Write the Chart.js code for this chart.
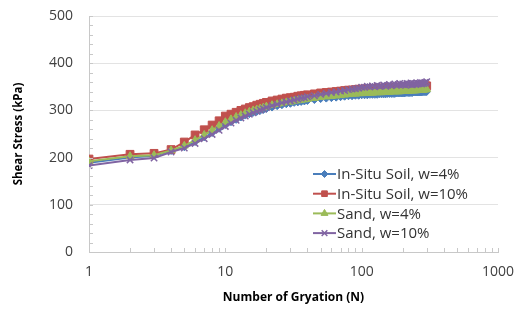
<!DOCTYPE html>
<html>
<head>
<meta charset="utf-8">
<script src="https://cdn.jsdelivr.net/npm/chart.js@4"></script>
<style>
  html, body { margin: 0; padding: 0; background: #fff; }
  #wrap { width: 524px; height: 309px; }
</style>
</head>
<body>
<div id="wrap"><canvas id="chart"></canvas></div>
<script>
// number of gyrations
const gyrations = [1, 2, 3, 4, 5, 6, 7, 8, 9, 10, 11, 12, 13, 14, 15, 16, 17, 18, 19, 20,
    22, 24, 26, 28, 30, 32, 34, 36, 38, 40,
    45, 50, 55, 60, 65, 70, 75, 80, 85, 90, 95, 100,
    105, 110, 115, 120, 125, 130, 135, 140, 145, 150, 155, 160, 165, 170, 175, 180, 185, 190, 195, 200,
    205, 210, 215, 220, 225, 230, 235, 240, 245, 250, 255, 260, 265, 270, 275, 280, 285, 290, 295, 300]

const insitu4 = [189, 200, 204, 214, 222, 233, 243, 252, 261, 269, 275, 280, 285, 289, 292, 295, 297, 299, 301, 303,
    306, 309, 311, 313, 314, 316, 317, 318, 319, 320,
    322, 324, 325, 326, 327, 328, 329, 330, 330, 331, 331, 332,
    332, 332, 333, 333, 333, 333, 334, 334, 334, 334, 335, 335, 335, 335, 335, 336, 336, 336, 336, 336,
    336, 337, 337, 337, 337, 337, 337, 338, 338, 338, 338, 338, 338, 338, 338, 339, 339, 339, 339, 339]

const insitu10 = [197, 207, 209, 217, 233, 248, 259, 269, 278, 288, 292, 296, 300, 303, 306, 308, 311, 313, 315, 317,
    320, 322, 324, 326, 327, 328, 330, 331, 332, 333,
    335, 337, 338, 339, 340, 341, 342, 343, 343, 344, 345, 345,
    345, 346, 346, 346, 346, 347, 347, 347, 347, 348, 348, 348, 348, 348, 349, 349, 349, 349, 349, 349,
    349, 350, 350, 350, 350, 350, 350, 350, 350, 351, 351, 351, 351, 351, 351, 351, 352, 352, 352, 352]

const sand4 = [192, 203, 205, 215, 225, 237, 248, 258, 267, 275, 281, 286, 290, 294, 297, 300, 302, 304, 306, 308,
    311, 313, 315, 317, 318, 320, 321, 322, 323, 324,
    326, 328, 329, 330, 331, 332, 333, 334, 335, 335, 336, 336,
    337, 337, 337, 337, 338, 338, 338, 338, 339, 339, 339, 339, 340, 340, 340, 340, 340, 340, 341, 341,
    341, 341, 341, 341, 342, 342, 342, 342, 342, 342, 343, 343, 343, 343, 343, 343, 344, 344, 344, 345]

const sand10 = [183, 195, 199, 212, 220, 230, 240, 249, 258, 266, 273, 279, 284, 288, 292, 295, 298, 301, 303, 306,
    310, 313, 316, 318, 320, 322, 324, 326, 327, 329,
    331, 334, 336, 338, 339, 341, 342, 344, 345, 346, 347, 349,
    349, 351, 350, 352, 350, 353, 351, 352, 354, 351, 353, 355, 352, 354, 356, 353, 355, 357, 354, 356,
    355, 353, 357, 355, 356, 358, 354, 357, 356, 355, 358, 356, 357, 359, 356, 358, 357, 359, 358, 361]

const seriesNames = ['In-Situ Soil, w=4%', 'In-Situ Soil, w=10%', 'Sand, w=4%', 'Sand, w=10%']
const yTicks = [0, 100, 200, 300, 400, 500]
const xTicks = [1, 10, 100, 1000]

const toPoints = (vals) => gyrations.map((n, i) => ({ x: n, y: vals[i] }))

const makeSet = (label, vals, color, style, radius, order) => ({
    label: label,
    data: toPoints(vals),
    borderColor: color,
    backgroundColor: color,
    borderWidth: 2,
    pointStyle: style,
    pointRadius: radius,
    pointBorderWidth: style === 'crossRot' ? 1.5 : 1,
    pointHoverRadius: radius,
    order: order
})

// minor tick marks drawn inside the plot, like the spreadsheet chart
const minorTicks = {
    id: 'minorTicks',
    afterDraw(chart) {
        const ctx = chart.ctx
        const { left, bottom } = chart.chartArea
        const x = chart.scales.x
        const y = chart.scales.y
        ctx.save()
        ctx.strokeStyle = '#c8c8c8'
        ctx.lineWidth = 1
        ctx.beginPath()
        for (let v = 0; v <= 500; v += 20) {
            const py = Math.round(y.getPixelForValue(v)) + 0.5
            ctx.moveTo(left, py)
            ctx.lineTo(left + 4, py)
        }
        for (let d = 1; d < 1000; d *= 10) {
            for (let k = 1; k <= 10; k++) {
                const px = Math.round(x.getPixelForValue(d * k)) + 0.5
                ctx.moveTo(px, bottom)
                ctx.lineTo(px, bottom - 4)
            }
        }
        ctx.stroke()
        ctx.restore()
    }
}

// legend inside the plot area with line + marker samples
const insideLegend = {
    id: 'insideLegend',
    afterDraw(chart) {
        const ctx = chart.ctx
        const { left, top } = chart.chartArea
        const sets = chart.data.datasets
        ctx.save()
        ctx.font = '15px "Open Sans", sans-serif'
        ctx.textBaseline = 'middle'
        seriesNames.forEach((name, i) => {
            const ds = sets[i]
            const y0 = top + 158 + i * 19.7
            const x0 = left + 224
            ctx.strokeStyle = ds.borderColor
            ctx.lineWidth = 2
            ctx.beginPath()
            ctx.moveTo(x0, y0)
            ctx.lineTo(x0 + 23, y0)
            ctx.stroke()
            ctx.fillStyle = ds.backgroundColor
            ctx.lineWidth = ds.pointBorderWidth
            Chart.helpers.drawPoint(ctx, {
                pointStyle: ds.pointStyle,
                radius: Math.min(ds.pointRadius, 4),
                rotation: 0,
                borderWidth: ds.pointBorderWidth
            }, x0 + 11.5, y0)
            ctx.fillStyle = '#333'
            ctx.fillText(name, x0 + 24, y0 + 1)
        })
        ctx.restore()
    }
}

const config = {
    type: 'line',
    data: {
        datasets: [
            makeSet(seriesNames[0], insitu4, '#4a7ebb', 'rectRot', 3.5, 3),
            makeSet(seriesNames[1], insitu10, '#c0504d', 'rect', 5.5, 2),
            makeSet(seriesNames[2], sand4, '#9bbb59', 'triangle', 4.5, 1),
            makeSet(seriesNames[3], sand10, '#8064a2', 'crossRot', 4.5, 0)
        ]
    },
    options: {
        responsive: true,
        maintainAspectRatio: false,
        animation: false,
        layout: {
            padding: { top: 16, right: 26, bottom: 4, left: 0 }
        },
        scales: {
            x: {
                type: 'logarithmic',
                min: 1,
                max: 1000,
                afterBuildTicks: (scale) => {
                    scale.ticks = xTicks.map(v => ({ value: v }))
                },
                afterFit: (scale) => {
                    scale.height = 53
                    scale.paddingRight = 0
                },
                grid: { drawOnChartArea: false, drawTicks: false },
                border: { display: true, color: '#c8c8c8' },
                ticks: {
                    padding: 12,
                    color: '#404040',
                    font: { family: 'Open Sans', size: 14 },
                    maxRotation: 0,
                    callback: (v) => String(v)
                },
                title: {
                    display: true,
                    text: 'Number of Gryation (N)',
                    color: '#000',
                    font: { family: 'Open Sans', size: 12, weight: 'bold' },
                    padding: { top: 4, bottom: 0 }
                }
            },
            y: {
                min: 0,
                max: 500,
                afterBuildTicks: (scale) => {
                    scale.ticks = yTicks.map(v => ({ value: v }))
                },
                afterFit: (scale) => {
                    scale.width = 89
                    scale.paddingTop = 0
                    scale.paddingBottom = 0
                },
                grid: { color: '#e3e3e3', drawTicks: false },
                border: { display: true, color: '#c8c8c8' },
                ticks: {
                    padding: 16,
                    color: '#404040',
                    font: { family: 'Open Sans', size: 14 }
                },
                title: {
                    display: true,
                    text: 'Shear Stress (kPa)',
                    color: '#000',
                    font: { family: 'Open Sans', size: 11.5, weight: 'bold' },
                    padding: { top: 12, bottom: 4 }
                }
            }
        },
        plugins: {
            legend: { display: false },
            tooltip: { enabled: false }
        }
    },
    plugins: [minorTicks, insideLegend]
}

new Chart(document.getElementById('chart'), config)
</script>
</body>
</html>
